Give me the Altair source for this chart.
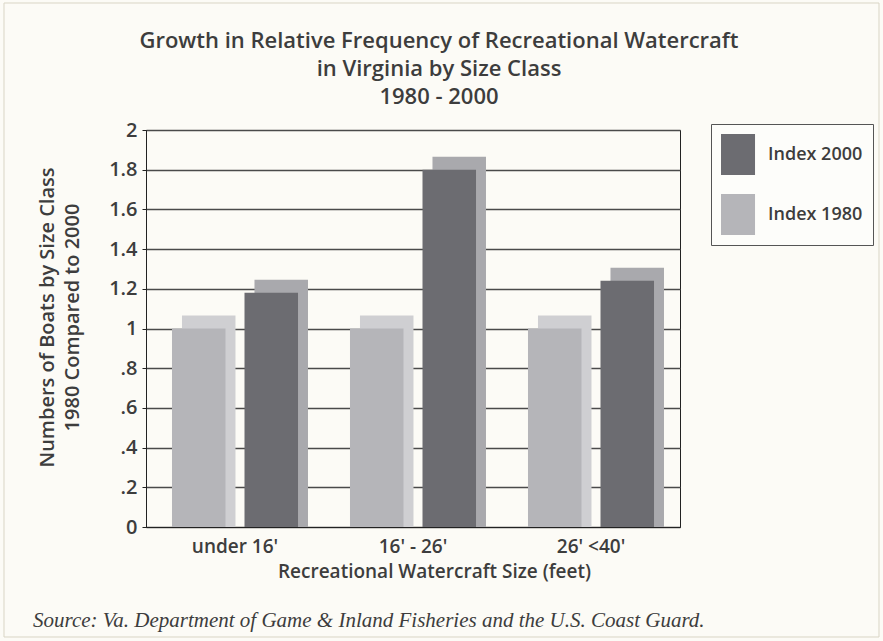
import altair as alt
import pandas as pd

# ---- data ----
categories = ["under 16'", "16' - 26'", "26' <40'"]
series_order = ["Index 1980", "Index 2000"]
legend_order = ["Index 2000", "Index 1980"]
index_1980 = [1.0, 1.0, 1.0]
index_2000 = [1.18, 1.80, 1.24]
y_ticks = [0, 0.2, 0.4, 0.6, 0.8, 1.0, 1.2, 1.4, 1.6, 1.8, 2.0]
title_lines = [
    "Growth in Relative Frequency of Recreational Watercraft",
    "in Virginia by Size Class",
    "1980 - 2000",
]
y_title = ["Numbers of Boats by Size Class", "1980 Compared to 2000"]
x_title = "Recreational Watercraft Size (feet)"
source_note = "Source: Va. Department of Game & Inland Fisheries and the U.S. Coast Guard."

rows = []
for c, a, b in zip(categories, index_1980, index_2000):
    rows.append({"size": c, "series": "Index 1980", "value": a})
    rows.append({"size": c, "series": "Index 2000", "value": b})
df = pd.DataFrame(rows)

W, H = 534, 397
FONT = "Open Sans"
FW = 600
TXT = "#3d3d3d"

y_enc = alt.Y(
    "value:Q",
    scale=alt.Scale(domain=[0, 2], nice=False),
    axis=alt.Axis(
        values=y_ticks,
        labelExpr="datum.value == 0 ? '0' : (datum.value < 1 ? substring(format(datum.value, '.1f'), 1) : format(datum.value, '.1~f'))",
        title=y_title,
        titleFont=FONT, titleFontSize=20, titleColor=TXT, titleFontWeight=FW,
        titlePadding=26, titleLineHeight=25, titleY=187,
        labelFont=FONT, labelFontSize=20, labelColor=TXT, labelFontWeight=FW, labelPadding=5,
        grid=True, gridColor="#4a4a4a", gridWidth=1.4,
        domainColor="#222", tickColor="#222", tickSize=4,
    ),
)

xoff = alt.XOffset("series:N", sort=series_order,
                   scale=alt.Scale(paddingInner=0.262, paddingOuter=0))

depth = alt.Chart(df).mark_bar(yOffset=-13).encode(
    x=alt.X("size:N", sort=categories,
            scale=alt.Scale(paddingInner=0.292, paddingOuter=0.146, align=0.692),
            axis=None),
    xOffset=xoff,
    y=y_enc,
    y2=alt.datum(0),
    color=alt.Color("series:N",
                    scale=alt.Scale(domain=legend_order, range=["#a9a9ad", "#cfcfd2"]),
                    legend=None),
)

front = alt.Chart(df).mark_bar().encode(
    x=alt.X("size:N", sort=categories,
            scale=alt.Scale(paddingInner=0.292, paddingOuter=0.146, align=0.5),
            axis=alt.Axis(title=x_title, labelAngle=0, ticks=False,
                          labelFont=FONT, labelFontSize=19, labelColor=TXT,
                          labelFontWeight=FW, labelPadding=10,
                          titleFont=FONT, titleFontSize=19, titleColor=TXT,
                          titleFontWeight=FW, titlePadding=6, titleX=288,
                          domainColor="#222")),
    xOffset=xoff,
    y=y_enc,
    color=alt.Color("series:N",
                    scale=alt.Scale(domain=legend_order, range=["#6c6c71", "#b5b5b9"]),
                    legend=alt.Legend(title=None, orient="none", legendX=565, legendY=-6,
                                      symbolType="M-1,-1L0.66,-1L0.66,1L-1,1Z",
                                      symbolSize=1681,
                                      symbolStrokeWidth=0, symbolOpacity=1,
                                      labelFont=FONT, labelFontSize=18, labelColor=TXT,
                                      labelFontWeight=FW,
                                      labelOffset=6, padding=10, rowPadding=19,
                                      strokeColor="#555", fillColor="#fdfdfa")),
)

title_text = alt.Chart(pd.DataFrame({"t": ["\n".join(title_lines)]})).mark_text(
    align="center", baseline="middle", font=FONT, fontSize=22, fontWeight=FW,
    color=TXT, lineBreak="\n", lineHeight=28,
).encode(text="t:N", x=alt.value(293), y=alt.value(-89))

note = alt.Chart(pd.DataFrame({"t": [source_note]})).mark_text(
    align="left", baseline="middle", font="Liberation Serif", fontStyle="italic",
    fontSize=21, color=TXT,
).encode(text="t:N", x=alt.value(-113), y=alt.value(491))

frame = alt.Chart(pd.DataFrame({"t": [0]})).mark_rect(
    fill="transparent", stroke="#d9d5c5", strokeWidth=1,
).encode(x=alt.value(-142), x2=alt.value(733), y=alt.value(-127), y2=alt.value(507))

chart = alt.layer(frame, depth, front, title_text, note).resolve_scale(
    x="independent", color="independent"
).properties(
    width=W, height=H,
    padding={"left": 146, "top": 130, "right": 883 - 146 - W, "bottom": 641 - 130 - H},
    autosize=alt.AutoSizeParams(type="none"),
    background="#fcfbf6",
).configure_view(stroke="#222", strokeWidth=1)

chart.save("out.html", embed_options={"renderer": "svg", "actions": False})
